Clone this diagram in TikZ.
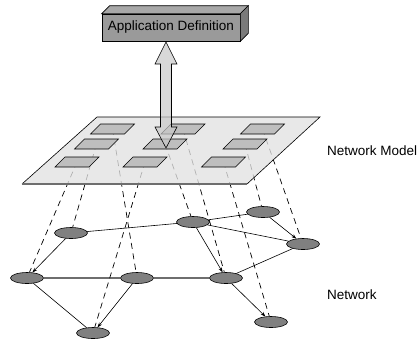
\documentclass[tikz,border=0pt]{standalone}
\usepackage{fontspec}
\setmainfont{Liberation Sans}
\usetikzlibrary{shapes.geometric,arrows.meta,calc}
\definecolor{planefill}{RGB}{226,226,226}
\definecolor{rectfill}{RGB}{190,190,190}
\definecolor{nodefill}{RGB}{128,128,128}
\definecolor{boxfront}{RGB}{154,154,154}
\definecolor{boxtop}{RGB}{168,168,168}
\definecolor{boxside}{RGB}{122,122,122}
\definecolor{arrowfill}{RGB}{200,200,200}
\definecolor{thickgray}{RGB}{110,110,110}
\begin{document}
\begin{tikzpicture}[x=1pt,y=-1pt,
  font=\fontsize{13.5}{16}\selectfont,
  netnode/.style={ellipse,draw=black,line width=0.6pt,fill=nodefill,inner sep=0pt,minimum width=33pt,minimum height=11pt},
  edge/.style={draw=black,line width=0.6pt},
  diredge/.style={edge,-{Stealth[length=5pt,width=3.5pt]}},
  heavyedge/.style={draw=thickgray,line width=1.2pt},
  mapline/.style={draw=black,line width=0.7pt,dash pattern=on 6pt off 4.5pt},
  lbl/.style={anchor=base west,inner sep=0pt},
  appbox/.style={draw=black,line width=0.6pt,fill=boxfront,minimum width=138pt,minimum height=27pt,inner sep=0pt}
]
\useasboundingbox (0,0) rectangle (419,341);

% network nodes
\node[netnode] (n1) at (71,233) {};
\node[netnode] (n2) at (193,222) {};
\node[netnode] (n3) at (263,212) {};
\node[netnode] (n4) at (303,244) {};
\node[netnode] (n5) at (27,278) {};
\node[netnode] (n6) at (137,278) {};
\node[netnode] (n7) at (226,278) {};
\node[netnode] (n8) at (271,322) {};
\node[netnode] (n9) at (93,333) {};

% network edges
\draw[edge] (n1) -- (n2);
\draw[diredge] (n1) -- (n5);
\draw[edge] (n2) -- (n3);
\draw[edge] (n2) -- (n4);
\draw[diredge] (n3) -- (n4);
\draw[diredge] (n2) -- (n7);
\draw[heavyedge] (n5) -- (n6);
\draw[heavyedge] (n6) -- (n7);
\draw[edge] (n7) -- (n4);
\draw[diredge] (n7) -- (n8);
\draw[edge] (n5) -- (n9);
\draw[diredge] (n6) -- (n9);

% model element centres
\foreach \nm/\x/\y in {A/112.5/129, B/183/129, C/262.5/129, D/96.5/144, E/165/144, F/245/144, G/77/162, H/145/162, I/223.5/162}
  \coordinate (r\nm) at (\x,\y);

% mapping lines
\draw[mapline] (rA) -- (n6);
\draw[mapline] (rB) -- (n7);
\draw[mapline] (rC) -- (n4);
\draw[mapline] (rD) -- (n1);
\draw[mapline] (rE) -- (n2);
\draw[mapline] (rF) -- (n3);
\draw[mapline] (rG) -- (n5);
\draw[mapline] (rH) -- (n9);
\draw[mapline] (rI) -- (n8);

% plane
\coordinate (pbl) at (22,184);
\coordinate (pbr) at (247,184);
\coordinate (ptr) at (320,117);
\coordinate (ptl) at (97,117);
\fill[planefill,fill opacity=0.78] (pbl) -- (pbr) -- (ptr) -- (ptl) -- cycle;
\draw[black,line width=0.6pt] (pbr) -- (ptr) -- (ptl) -- (pbl);
\draw[thickgray,line width=1.5pt] (pbl) -- (pbr);

% model elements
\foreach \nm in {A,B,C,D,E,F,G,H,I}
  \draw[black,line width=0.6pt,fill=rectfill]
    ($(r\nm)+(-22,5)$) -- ($(r\nm)+(12,5)$) -- ($(r\nm)+(22,-5)$) -- ($(r\nm)+(-12,-5)$) -- cycle;

% application definition box
\node[appbox] (appdef) at (171,27.5) {Application Definition};
\draw[black,line width=0.6pt,fill=boxtop] (appdef.north west) -- ++(8,-8) -- ($(appdef.north east)+(8,-8)$) -- (appdef.north east) -- cycle;
\draw[black,line width=0.6pt,fill=boxside] (appdef.north east) -- ++(8,-8) -- ($(appdef.south east)+(8,-8)$) -- (appdef.south east) -- cycle;

% double arrow
\coordinate (atop) at (166,42);
\coordinate (abot) at (166,148);
\draw[black,line width=0.6pt,fill=arrowfill,fill opacity=0.7]
  (atop) -- ++(11,22) -- ++(-5.5,0) -- ($(abot)+(5.5,-21)$) -- ++(5.5,0) -- (abot)
  -- ++(-11,-21) -- ++(5.5,0) -- ($(atop)+(-5.5,22)$) -- ++(-5.5,0) -- cycle;

% labels
\node[lbl] (lblmodel) at (327,155) {Network Model};
\node[lbl] (lblnet) at (327,299) {Network};
\end{tikzpicture}
\end{document}
